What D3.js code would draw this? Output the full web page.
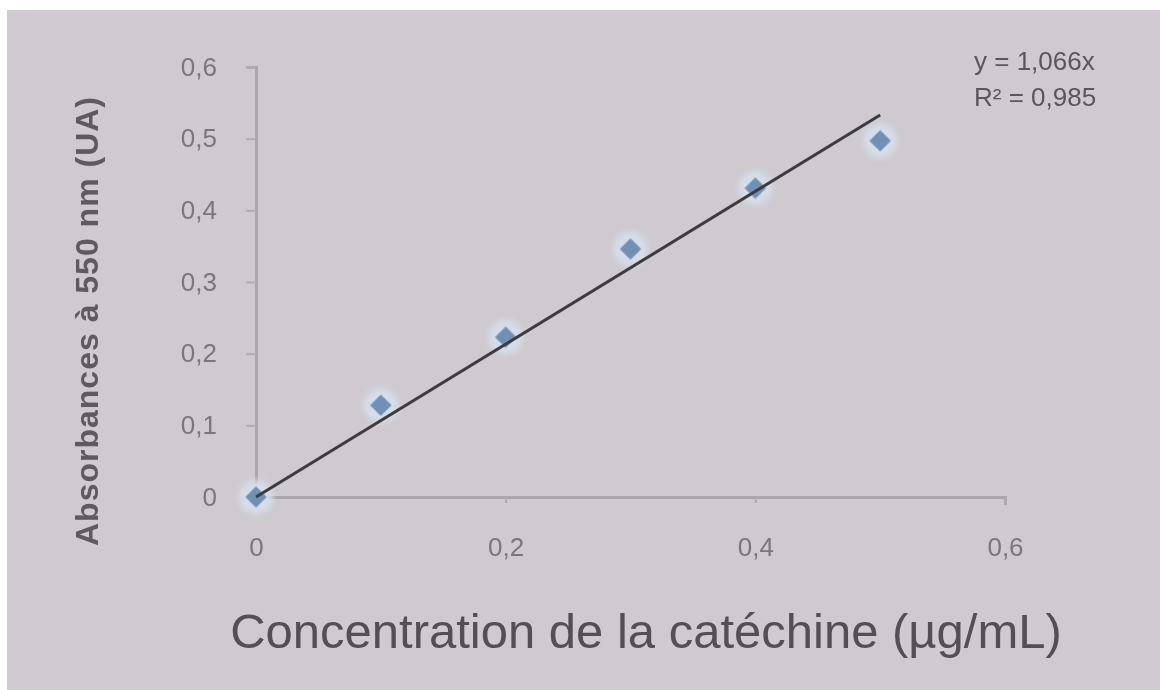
<!DOCTYPE html>
<html>
<head>
<meta charset="utf-8">
<script src="https://cdn.jsdelivr.net/npm/d3@7"></script>
<style>
  body { margin: 0; background: #ffffff; }
  svg { display: block; }
</style>
</head>
<body>
<div id="chart"></div>
<script>
// data
const concentrations = [0, 0.1, 0.2, 0.3, 0.4, 0.5];
const absorbances = [0, 0.128, 0.223, 0.346, 0.431, 0.497];
const slope = 1.066;
const xTicks = [0, 0.2, 0.4, 0.6];
const yTicks = [0, 0.1, 0.2, 0.3, 0.4, 0.5, 0.6];
const equationLines = ["y = 1,066x", "R\u00b2 = 0,985"];

const width = 1160, height = 690;
const fmt = d => d === 0 ? "0" : d3.format(".1f")(d).replace(".", ",");

const svg = d3.select("#chart")
    .append("svg")
        .attr("width", width)
        .attr("height", height);

// blur for the photographed marker halo
const defs = svg.append("defs");
defs.append("filter").attr("id", "soft")
    .append("feGaussianBlur").attr("stdDeviation", 3);
defs.append("filter").attr("id", "fuzz")
    .append("feGaussianBlur").attr("stdDeviation", 0.6);

// photo background
svg.append("rect")
    .attr("x", 7).attr("y", 10)
    .attr("width", width - 7).attr("height", height - 10)
    .attr("fill", "#cecacf");

const x = d3.scaleLinear().domain([0, 0.6]).range([256, 1005]);
const y = d3.scaleLinear().domain([0, 0.6]).range([497, 67]);

// axes
const xAxis = svg.append("g")
    .attr("transform", "translate(0, 497)")
    .call(d3.axisBottom(x).tickValues(xTicks).tickFormat(fmt).tickSize(8).tickPadding(33));
const yAxis = svg.append("g")
    .attr("transform", "translate(256, 0)")
    .call(d3.axisLeft(y).tickValues(yTicks).tickFormat(fmt).tickSize(10).tickPadding(29));

[xAxis, yAxis].forEach(a => {
    a.select(".domain").attr("stroke", "#aaa6ac").attr("stroke-width", 3);
    a.selectAll(".tick line").attr("stroke", "#b0acb2").attr("stroke-width", 2);
    a.selectAll(".tick text")
        .attr("fill", "#7a767d")
        .attr("filter", "url(#fuzz)")
        .style("font-family", "Liberation Sans, Arial, sans-serif")
        .style("font-size", "26px");
});
xAxis.selectAll(".tick line").attr("y2", 6);

// points (soft halo + diamond)
const diamond = d3.symbol().type(d3.symbolSquare).size(230);
svg.selectAll(".halo")
    .data(concentrations)
    .enter()
    .append("circle")
        .attr("class", "halo")
        .attr("cx", (d) => x(d))
        .attr("cy", (d, i) => y(absorbances[i]))
        .attr("r", 17)
        .attr("fill", "#d6deeb")
        .attr("filter", "url(#soft)");

svg.selectAll(".pt")
    .data(concentrations)
    .enter()
    .append("path")
        .attr("class", "pt")
        .attr("d", diamond)
        .attr("transform", (d, i) => `translate(${x(d)}, ${y(absorbances[i])}) rotate(45)`)
        .attr("fill", "#7190b6")
        .attr("filter", "url(#fuzz)");

// trend line y = 1.066x
const lineEnds = [0, 0.5];
svg.append("path")
    .datum(lineEnds)
    .attr("d", d3.line().x(d => x(d)).y(d => y(slope * d)))
    .attr("stroke", "#3d3b40")
    .attr("stroke-width", 3)
    .attr("fill", "none");

// equation
svg.selectAll(".eq")
    .data(equationLines)
    .enter()
    .append("text")
        .attr("class", "eq")
        .attr("x", 974)
        .attr("y", (d, i) => 70 + i * 36)
        .attr("fill", "#5a565d")
        .attr("filter", "url(#fuzz)")
        .style("font-family", "Liberation Sans, Arial, sans-serif")
        .style("font-size", "26px")
        .text(d => d);

// axis titles
svg.append("text")
    .attr("x", 646)
    .attr("y", 648)
    .attr("text-anchor", "middle")
    .attr("fill", "#525055")
    .attr("filter", "url(#fuzz)")
    .style("font-family", "Liberation Sans, Arial, sans-serif")
    .style("font-size", "49px")
    .text("Concentration de la catéchine (µg/mL)");

svg.append("text")
    .attr("transform", "translate(98, 321) rotate(-90)")
    .attr("text-anchor", "middle")
    .attr("fill", "#5e5a61")
    .attr("filter", "url(#fuzz)")
    .style("font-family", "Liberation Sans, Arial, sans-serif")
    .style("font-weight", "bold")
    .style("font-size", "32px")
    .style("letter-spacing", "1px")
    .text("Absorbances  à 550 nm (UA)");
</script>
</body>
</html>
